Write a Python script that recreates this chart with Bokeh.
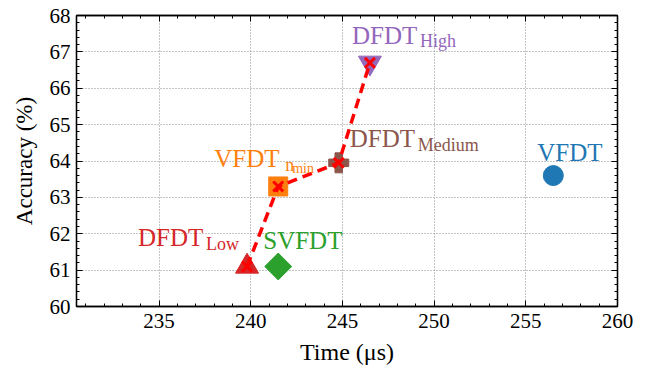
import numpy as np
from bokeh.plotting import figure
from bokeh.models import LinearAxis, SingleIntervalTicker, Range1d, CustomJSTickFormatter
from bokeh.core.properties import value
from bokeh.embed import file_html
from bokeh.resources import INLINE

# ---- data ----
methods = ["VFDT", "VFDT_nmin", "SVFDT", "DFDT_Low", "DFDT_Medium", "DFDT_High"]
time_us = [256.5, 241.5, 241.5, 239.8, 244.8, 246.5]
accuracy = [63.6, 63.3, 61.1, 61.1, 63.95, 66.7]
path_order = ["DFDT_Low", "VFDT_nmin", "DFDT_Medium", "DFDT_High"]
x_ticks_interval = 5
y_ticks_interval = 1

FONT = "Liberation Serif"
colors = {"VFDT": "#1f77b4", "VFDT_nmin": "#ff7f0e", "SVFDT": "#2ca02c",
          "DFDT_Low": "#d62728", "DFDT_Medium": "#8c564b", "DFDT_High": "#9467bd"}
markers = {"VFDT": ("circle", 20, 0), "VFDT_nmin": ("square", 19, 0),
           "SVFDT": ("square", 19, np.pi / 4), "DFDT_Low": ("triangle", 23, 0),
           "DFDT_Medium": ("plus", 20, 0), "DFDT_High": ("inverted_triangle", 23, 0)}

p = figure(width=650, height=368, output_backend="svg", toolbar_location=None,
           x_range=Range1d(230.5, 260), y_range=Range1d(60, 68),
           min_border_left=76, min_border_right=33, min_border_top=15, min_border_bottom=62)
p.background_fill_color = "white"
p.border_fill_color = "white"
p.outline_line_color = "black"
p.outline_line_width = 1.3

xt = SingleIntervalTicker(interval=x_ticks_interval, num_minor_ticks=5)
yt = SingleIntervalTicker(interval=y_ticks_interval, num_minor_ticks=5)

def style_axis(ax, labels=True):
    ax.major_tick_in = 6
    ax.major_tick_out = 0
    ax.minor_tick_in = 3
    ax.minor_tick_out = 0
    ax.axis_line_color = "black"
    ax.axis_line_width = 1.3
    ax.major_tick_line_width = 1
    ax.minor_tick_line_width = 1
    ax.major_label_text_font = FONT
    ax.major_label_text_color = "black"
    ax.axis_label_text_font = FONT
    ax.axis_label_text_font_style = "normal"
    ax.axis_label_text_color = "black"
    if not labels:
        ax.formatter = CustomJSTickFormatter(code="return ''")
        ax.major_label_standoff = 0

p.xaxis.ticker = xt
p.yaxis.ticker = yt
style_axis(p.xaxis[0])
style_axis(p.yaxis[0])
p.xaxis.axis_label = "Time (μs)"
p.yaxis.axis_label = "Accuracy (%)"
p.xaxis.major_label_text_font_size = "21px"
p.yaxis.major_label_text_font_size = "21px"
p.xaxis.axis_label_text_font_size = "24px"
p.yaxis.axis_label_text_font_size = "23px"
p.xaxis.major_label_standoff = 7
p.yaxis.major_label_standoff = 6
p.xaxis.axis_label_standoff = 8
p.yaxis.axis_label_standoff = 10

top = LinearAxis(ticker=xt)
right = LinearAxis(ticker=yt)
style_axis(top, labels=False)
style_axis(right, labels=False)
p.add_layout(top, "above")
p.add_layout(right, "right")

p.xgrid.ticker = xt
p.ygrid.ticker = yt
for g in (p.xgrid[0], p.ygrid[0]):
    g.grid_line_color = "#8a8a8a"
    g.grid_line_dash = "1 2"
    g.grid_line_width = 1

idx = {m: i for i, m in enumerate(methods)}

for m in methods:
    mk, sz, ang = markers[m]
    p.scatter([time_us[idx[m]]], [accuracy[idx[m]]], marker=mk, size=sz, angle=ang,
              fill_color=colors[m], line_color=colors[m], line_width=1)

px = [time_us[idx[m]] for m in path_order]
py = [accuracy[idx[m]] for m in path_order]
p.line(px, py, line_color="red", line_width=3.5, line_dash="10 6")
p.scatter(px, py, marker="x", size=14, line_color="red", line_width=3)

def add_text(m, txt, dx, dy, size):
    p.text([time_us[idx[m]]], [accuracy[idx[m]]], text=[txt], x_offset=dx, y_offset=dy,
           text_font=value(FONT), text_font_size=size, text_color=colors[m],
           text_align="left", text_baseline="alphabetic")

add_text("VFDT", "VFDT", -16, -23, "25px")
add_text("DFDT_High", "DFDT", -18, -27, "25px")
add_text("DFDT_High", "High", 50, -22, "18px")
add_text("DFDT_Medium", "DFDT", 11, -24, "25px")
add_text("DFDT_Medium", "Medium", 79, -18, "18px")
add_text("VFDT_nmin", "VFDT", -64, -28, "25px")
add_text("VFDT_nmin", "n", 7, -21, "18px")
add_text("VFDT_nmin", "min", 14, -18, "14px")
add_text("SVFDT", "SVFDT", -15, -26, "25px")
add_text("DFDT_Low", "DFDT", -109, -29, "25px")
add_text("DFDT_Low", "Low", -41, -22, "18px")

open("out.html", "w").write(file_html(p, INLINE))
